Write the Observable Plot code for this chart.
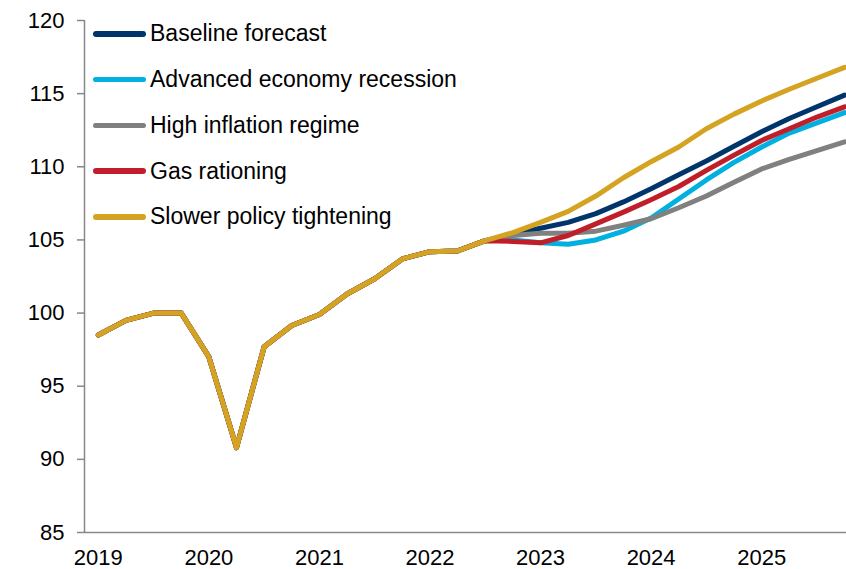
<!DOCTYPE html>
<html>
<head>
<meta charset="utf-8">
<script src="https://cdn.jsdelivr.net/npm/d3@7"></script>
<script src="https://cdn.jsdelivr.net/npm/@observablehq/plot@0.6"></script>
<style>
  body { margin: 0; background: #fff; font-family: "Liberation Sans", Arial, sans-serif; }
  #wrap { position: relative; width: 846px; height: 569px; overflow: hidden; }
  #legend { position: absolute; left: 93px; top: 20px; }
  .item { display: flex; align-items: center; height: 45.75px; margin-top: -9px; margin-bottom: 9px; }
  .sw { width: 53px; height: 5.5px; border-radius: 3px; margin-right: 4px; }
  .lab { font-size: 23px; color: #000; white-space: nowrap; }
</style>
</head>
<body>
<div id="wrap"></div>
<script>
// Quarterly index, 2019Q1 .. 2025Q4
const years = [2019, 2020, 2021, 2022, 2023, 2024, 2025];
const yTicks = [85, 90, 95, 100, 105, 110, 115, 120];

// Common history 2019Q1 .. 2022Q3
const history = [98.5, 99.5, 100.0, 100.0, 97.0, 90.8, 97.7, 99.15, 99.9, 101.3, 102.35, 103.7, 104.2, 104.25, 104.95];

// Scenarios 2022Q4 .. 2025Q4
const baseline  = [105.4, 105.8, 106.2, 106.8, 107.6, 108.5, 109.45, 110.4, 111.4, 112.4, 113.3, 114.1, 114.9];
const recession = [105.0, 104.8, 104.7, 105.0, 105.6, 106.5, 107.8, 109.1, 110.3, 111.35, 112.3, 113.0, 113.7];
const inflation = [105.3, 105.45, 105.45, 105.6, 106.0, 106.45, 107.2, 108.0, 108.95, 109.85, 110.5, 111.1, 111.7];
const gas       = [104.9, 104.8, 105.3, 106.1, 106.9, 107.75, 108.65, 109.75, 110.8, 111.8, 112.6, 113.4, 114.1];
const slower    = [105.5, 106.2, 106.95, 108.0, 109.25, 110.35, 111.35, 112.6, 113.6, 114.5, 115.3, 116.05, 116.8];

const seriesNames = ["Baseline forecast", "Advanced economy recession", "High inflation regime", "Gas rationing", "Slower policy tightening"];
const seriesColors = ["#00356B", "#00B0E0", "#808080", "#C01F2A", "#D4A321"];
const seriesValues = [baseline, recession, inflation, gas, slower];

const rows = [];
seriesValues.forEach((vals, s) => {
  history.concat(vals).forEach((v, i) => rows.push({series: seriesNames[s], q: i, value: v}));
});

const xDomain = [-0.5, 27.07];

const chart = Plot.plot({
  width: 846,
  height: 569,
  marginLeft: 84,
  marginRight: 0,
  marginTop: 20,
  marginBottom: 37,
  style: {fontFamily: "Liberation Sans, Arial, sans-serif", fontSize: "22px", color: "#000", background: "#fff"},
  x: {domain: xDomain},
  y: {domain: [85, 120]},
  color: {domain: seriesNames, range: seriesColors},
  marks: [
    Plot.axisY({ticks: yTicks, tickSize: 7, tickPadding: 13, stroke: "#888", strokeWidth: 1.5, fontSize: 22, label: null, color: "#000"}),
    Plot.axisX({ticks: years.map((y, i) => i * 4), tickFormat: (d) => String(years[Math.round(d / 4)]), tickSize: 0, tickPadding: 17, fontSize: 22, label: null}),
    Plot.ruleY([85], {stroke: "#888", strokeWidth: 1.5}),
    Plot.ruleX([xDomain[0]], {stroke: "#888", strokeWidth: 1.5}),
    Plot.line(rows, {x: "q", y: "value", z: "series", stroke: "series", strokeWidth: 5, strokeLinejoin: "round", strokeLinecap: "round", clip: true})
  ]
});

const wrap = document.getElementById("wrap");
wrap.appendChild(chart);

const legend = document.createElement("div");
legend.id = "legend";
seriesNames.forEach((name, i) => {
  const item = document.createElement("div");
  item.className = "item";
  const sw = document.createElement("div");
  sw.className = "sw";
  sw.style.background = seriesColors[i];
  const lab = document.createElement("div");
  lab.className = "lab";
  lab.textContent = name;
  item.appendChild(sw);
  item.appendChild(lab);
  legend.appendChild(item);
});
wrap.appendChild(legend);
</script>
</body>
</html>
